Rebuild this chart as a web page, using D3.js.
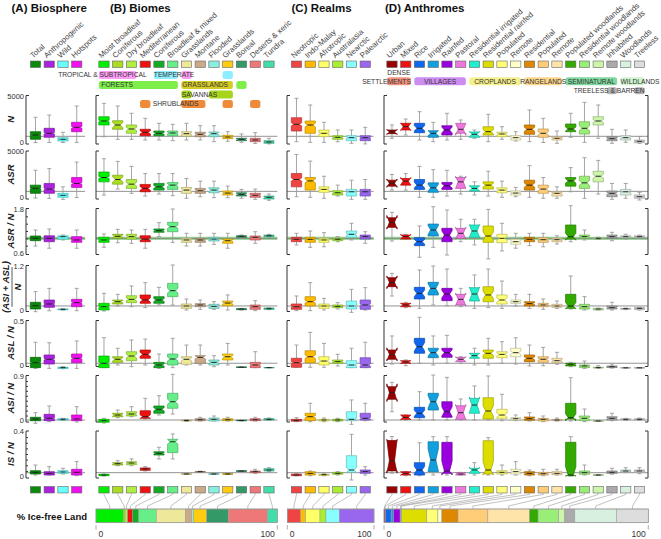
<!DOCTYPE html>
<html><head><meta charset="utf-8">
<script src="https://cdn.jsdelivr.net/npm/d3@7/dist/d3.min.js"></script>
<style>
html,body{margin:0;padding:0;background:#fff;}
svg{display:block;font-family:"Liberation Sans",Arial,Helvetica,sans-serif;}
</style></head><body>
<svg id="chart" width="661" height="539"></svg>
<script>
// ---------- categories ----------
const catA=["Total","Anthropogenic","Wild","Hotspots"];
const catB=["Moist broadleaf","Coniferous","Dry broadleaf","Mediterranean","Coniferous","Broadleaf & mixed","Grasslands","Montane","Flooded","Grasslands","Boreal","Deserts & xeric","Tundra"];
const catC=["Neotropic","Indo-Malay","Afrotropic","Australasia","Nearctic","Palearctic"];
const catD=["Urban","Mixed","Rice","Irrigated","Rainfed","Pastoral","Residential irrigated","Residential rainfed","Populated","Remote","Residential","Populated","Remote","Populated woodlands","Residential woodlands","Remote woodlands","Inhabited","Woodlands","Treeless"];
// ---------- colours ----------
const colA=["#0a8a0a","#aa22dd","#66ffff","#ee11ee"];
const colB=["#00ee00","#aadd22","#b0ee44","#ee1111","#11aa22","#66ee88","#eee899","#ccaa88","#88eedd","#ffcc11","#339966","#ee7777","#44ddaa"];
const colC=["#ee4444","#ffbb00","#ffff66","#aaee33","#88ffff","#9966ee"];
const colD=["#990000","#ee1111","#1166ee","#11a0dd","#9900dd","#ee77dd","#22eecc","#dddd00","#ffff77","#ffffcc","#dd8800","#ffcc77","#ffe4aa","#33aa00","#99ee77","#ccf5aa","#aaaaaa","#d8f0e0","#dddddd"];
// ---------- sample sizes (notches) ----------
const cntA=[760,400,200,300];
const cntB=[230,25,56,39,53,83,50,50,30,45,28,100,36];
const cntC=[179,106,114,96,115,225];
const cntD=[5,8,30,18,25,7,9,40,50,60,50,60,70,40,60,80,60,80,80];
// ---------- box stats: [low whisker, Q1, median, Q3, high whisker] ----------
const A_N=[[0,344,806,1161,2709],[0,559,989,1526,2956],[0,161,344,516,1096],[20,1161,1634,2172,3924]];
const B_N=[[624,1881,2311,2774,4214],[344,1419,1881,2344,3924],[344,989,1451,1881,3139],[269,731,1096,1419,2601],[269,731,989,1236,2064],[194,731,1021,1236,1956],[269,667,946,1161,2064],[269,624,882,1096,1806],[86,624,946,1129,1806],[129,409,591,774,1161],[20,194,344,452,914],[-100,86,269,452,1054],[-150,-80,54,194,452]];
const C_N=[[86,1236,1957,2666,4751],[20,989,1881,2311,4031],[20,624,989,1344,2171],[86,344,559,731,1344],[-86,194,516,731,1344],[-150,194,516,731,1634]];
const D_N=[[452,946,1129,1344,1881],[806,1344,1698,2064,2526],[269,1054,1527,2064,3311],[86,559,989,1269,2171],[269,806,1344,1806,3139],[344,989,1419,2064,2419],[452,559,882,1129,1344],[86,806,1161,1699,3032],[344,624,914,1096,1699],[161,269,516,731,1161],[86,882,1419,1881,3494],[0,559,989,1451,2601],[-86,269,452,624,1236],[559,1161,1451,1989,3139],[20,914,1527,2236,4322],[452,1881,2311,2774,4031],[-86,194,409,624,1419],[20,269,516,731,1344],[-86,-20,129,269,624]];

const A_ASR=[[-50,452,989,1344,2956],[-100,452,914,1527,3139],[-200,20,236,452,1161],[0,1096,1527,2171,3849]];
const B_ASR=[[269,1699,2171,2774,4214],[914,1451,1956,2419,3924],[452,989,1451,1956,3386],[161,624,989,1419,2601],[376,806,1161,1527,2601],[194,882,1344,1634,2601],[-86,452,806,1096,2064],[86,452,731,989,1774],[-20,516,806,1054,1774],[-20,269,484,699,1236],[-86,161,344,516,882],[-200,20,236,452,914],[-300,-161,20,161,376]];
const C_ASR=[[86,1161,1956,2601,4676],[20,806,1806,2171,3956],[-86,559,882,1161,2311],[161,269,516,731,1344],[-200,161,624,882,1881],[-194,161,624,882,1956]];
const D_ASR=[[806,1236,1559,1881,2494],[806,1344,1774,2064,2601],[20,882,1344,1956,3386],[20,559,1054,1591,3032],[161,882,1269,1634,2956],[376,989,1699,2171,2311],[269,699,989,1269,1699],[161,914,1344,1699,2849],[20,516,806,1054,1774],[86,269,484,699,1096],[20,806,1344,1881,3462],[-86,452,914,1344,2171],[-86,161,452,624,1161],[624,1236,1806,2171,3246],[-86,989,1591,2311,4322],[376,1699,2311,2849,4031],[-194,86,452,699,1527],[-86,269,624,882,1527],[-269,-86,86,269,559]];

const A_ASRN=[[0.79,0.936,1.0,1.064,1.227],[0.73,0.908,1.0,1.07,1.255],[0.955,0.98,1.045,1.07,1.09],[0.73,0.89,0.955,1.045,1.227]];
const B_ASRN=[[0.755,0.89,0.955,1.028,1.118],[0.88,1.0,1.055,1.11,1.245],[0.864,0.98,1.045,1.11,1.227],[0.73,0.908,0.98,1.07,1.245],[1.045,1.164,1.209,1.255,1.427],[0.89,1.181,1.317,1.437,1.8],[0.79,0.89,0.955,1.0,1.137],[0.79,0.89,0.955,1.0,1.137],[0.837,0.927,0.98,1.028,1.137],[0.73,0.864,0.935,0.98,1.137],[1.0,1.028,1.055,1.07,1.09],[0.864,0.955,1.028,1.064,1.18],[1.028,1.045,1.07,1.09,1.11]];
const C_ASRN=[[0.82,0.908,0.974,1.028,1.137],[0.755,0.89,0.974,1.028,1.2],[0.77,0.89,0.955,1.0,1.154],[0.908,0.935,0.974,1.0,1.045],[0.955,1.028,1.11,1.2,1.41],[0.864,0.98,1.045,1.09,1.18]];
const D_ASRN=[[0.927,1.3,1.437,1.563,1.71],[0.98,0.98,1.045,1.09,1.11],[0.483,0.8,0.908,1.018,1.336],[0.755,1.064,1.227,1.39,1.863],[0.545,0.908,1.09,1.273,1.773],[0.908,1.0,1.137,1.273,1.519],[0.82,1.028,1.2,1.364,1.519],[0.44,0.89,1.064,1.336,1.79],[0.655,0.88,1.0,1.11,1.41],[0.73,0.837,0.908,0.974,1.137],[0.8,0.908,0.974,1.028,1.137],[0.77,0.89,0.963,1.018,1.137],[0.845,0.908,0.963,1.0,1.07],[0.908,0.98,1.045,1.364,1.89],[0.955,1.0,1.045,1.09,1.227],[0.97,0.98,1.0,1.018,1.03],[0.935,1.0,1.045,1.09,1.164],[0.98,1.018,1.045,1.07,1.11],[1.0,1.018,1.045,1.07,1.09]];

const A_ASIL=[[-0.045,0.027,0.118,0.21,0.5],[-0.02,0.073,0.164,0.273,0.59],[0,0.005,0.018,0.027,0.035],[-0.02,0.09,0.2,0.29,0.59]];
const B_ASIL=[[-0.027,0,0.09,0.182,0.455],[0.109,0.164,0.227,0.273,0.427],[0.09,0.2,0.29,0.39,0.655],[0.064,0.182,0.273,0.409,0.745],[0.136,0.182,0.273,0.364,0.618],[0.136,0.364,0.527,0.727,1.227],[0,0.045,0.109,0.164,0.3],[0.018,0.09,0.136,0.173,0.273],[0.018,0.045,0.1,0.155,0.227],[0,0.118,0.19,0.245,0.41],[0,0.009,0.027,0.036,0.045],[-0.018,0.018,0.09,0.136,0.255],[0.009,0.018,0.036,0.055,0.055]];
const C_ASIL=[[-0.018,0.018,0.09,0.164,0.382],[-0.018,0.109,0.227,0.364,0.745],[0,0.045,0.109,0.164,0.318],[0.027,0.064,0.1,0.136,0.2],[-0.064,0.027,0.109,0.245,0.564],[0,0.018,0.136,0.273,0.609]];
const D_ASIL=[[0.382,0.636,0.755,0.882,1.0],[0.064,0.09,0.136,0.182,0.21],[0.045,0.3,0.455,0.618,1.09],[0.136,0.409,0.59,0.755,1.2],[0.118,0.255,0.436,0.59,1.118],[0.09,0.136,0.29,0.427,0.59],[0.045,0.245,0.436,0.609,0.955],[0.064,0.227,0.41,0.636,1.118],[0.045,0.164,0.273,0.41,0.79],[0.109,0.182,0.227,0.273,0.427],[0.045,0.109,0.173,0.227,0.427],[0.018,0.09,0.136,0.182,0.3],[0.045,0.073,0.109,0.155,0.245],[0.027,0.045,0.109,0.427,0.927],[0,0.027,0.09,0.155,0.364],[0,0,0.027,0.045,0.05],[0,0.027,0.064,0.109,0.21],[0.009,0.018,0.036,0.045,0.05],[0,0.009,0.045,0.064,0.07]];

const A_ASL=[[-0.038,-0.03,0.026,0.087,0.258],[-0.038,0.011,0.065,0.114,0.253],[-0.042,-0.04,-0.03,-0.025,-0.02],[-0.038,0.026,0.076,0.125,0.273]];
const B_ASL=[[-0.03,-0.03,0.019,0.102,0.31],[0,0.03,0.065,0.094,0.19],[-0.019,0.049,0.102,0.151,0.284],[0,0.076,0.121,0.17,0.295],[-0.038,-0.03,0,0.03,0.125],[-0.03,0,0.068,0.125,0.303],[0,0.008,0.065,0.094,0.227],[0,0.019,0.087,0.106,0.227],[-0.019,0,0.03,0.057,0.106],[0,0.057,0.094,0.125,0.246],[-0.028,-0.027,-0.025,-0.023,-0.022],[-0.03,-0.03,0,0.03,0.151],[-0.032,-0.031,-0.03,-0.029,-0.028]];
const C_ASL=[[-0.026,-0.026,0.026,0.076,0.227],[-0.026,0.026,0.094,0.162,0.371],[-0.026,0,0.045,0.094,0.246],[-0.011,0.019,0.038,0.057,0.121],[-0.03,-0.03,0,0.049,0.19],[-0.03,-0.03,0,0.083,0.258]];
const D_ASL=[[0.011,0.065,0.121,0.17,0.33],[-0.008,0.019,0.034,0.049,0.057],[0.019,0.133,0.208,0.303,0.542],[0,0.083,0.14,0.19,0.33],[0.019,0.087,0.14,0.19,0.337],[0.019,0.038,0.065,0.087,0.094],[0,0.076,0.106,0.133,0.19],[0,0.076,0.133,0.17,0.303],[0.019,0.083,0.121,0.151,0.265],[0.011,0.094,0.14,0.19,0.31],[-0.011,0.038,0.076,0.114,0.227],[-0.008,0.03,0.065,0.094,0.2],[0.008,0.026,0.049,0.076,0.144],[-0.019,-0.011,0.008,0.019,0.03],[-0.038,-0.03,-0.011,0,0.045],[-0.038,-0.034,-0.03,-0.025,-0.008],[-0.034,-0.03,-0.019,-0.011,0.011],[-0.034,-0.033,-0.032,-0.031,-0.03],[-0.034,-0.033,-0.032,-0.031,-0.03]];

const A_ASI=[[-0.057,-0.004,0.03,0.065,0.158],[-0.024,-0.004,0.044,0.125,0.293],[0,0.01,0.024,0.036,0.044],[-0.03,-0.004,0.03,0.111,0.279]];
const B_ASI=[[-0.05,-0.036,-0.004,0.024,0.044],[0.057,0.077,0.111,0.146,0.212],[0.077,0.091,0.131,0.178,0.279],[0.03,0.044,0.077,0.198,0.449],[0.111,0.146,0.226,0.293,0.501],[0.131,0.247,0.38,0.55,0.934],[-0.02,-0.01,0,0.01,0.02],[-0.01,-0.004,0.016,0.036,0.065],[-0.01,-0.01,0.024,0.05,0.091],[-0.01,-0.004,0.016,0.036,0.065],[-0.01,-0.005,0,0.005,0.01],[-0.01,-0.004,0.016,0.036,0.065],[0.01,0.01,0.024,0.036,0.05]];
const C_ASI=[[-0.024,-0.016,0.003,0.024,0.057],[-0.024,-0.004,0.077,0.146,0.348],[-0.024,-0.01,0.01,0.024,0.05],[-0.024,-0.01,0.01,0.024,0.044],[-0.077,-0.004,0.024,0.178,0.415],[-0.004,0.01,0.044,0.146,0.348]];
const D_ASI=[[0.178,0.429,0.562,0.683,0.772],[0.01,0.024,0.065,0.111,0.111],[0.01,0.057,0.146,0.267,0.582],[0.01,0.212,0.38,0.55,0.92],[0.01,0.065,0.178,0.38,0.873],[0.01,0.024,0.158,0.299,0.435],[0.01,0.146,0.313,0.449,0.698],[0.01,0.03,0.192,0.461,0.9],[-0.004,0.044,0.111,0.226,0.53],[-0.004,0.01,0.036,0.057,0.111],[-0.01,0.004,0.036,0.071,0.158],[-0.024,-0.01,0.024,0.044,0.091],[-0.01,-0.004,0.01,0.024,0.05],[-0.01,0.03,0.057,0.348,0.866],[-0.024,-0.004,0.044,0.091,0.232],[-0.012,-0.011,-0.01,-0.009,-0.008],[-0.004,0.01,0.044,0.077,0.146],[0,0.01,0.024,0.036,0.044],[0,0.01,0.024,0.036,0.05]];

const A_IS=[[0.013,0.022,0.037,0.052,0.102],[0.013,0.013,0.028,0.043,0.087],[0.022,0.028,0.04,0.052,0.073],[0.007,0.013,0.037,0.064,0.132]];
const B_IS=[[0.005,0.007,0.013,0.02,0.022],[0.096,0.102,0.114,0.123,0.14],[0.096,0.105,0.12,0.132,0.156],[0.049,0.055,0.067,0.076,0.087],[0.156,0.191,0.206,0.22,0.26],[0.156,0.212,0.309,0.331,0.378],[0.02,0.02,0.022,0.025,0.025],[0.038,0.04,0.043,0.045,0.047],[0.02,0.02,0.022,0.025,0.025],[0.02,0.02,0.022,0.025,0.025],[0.044,0.046,0.049,0.05,0.052],[0.028,0.034,0.043,0.049,0.064],[0.043,0.049,0.058,0.069,0.078]];
const C_IS=[[0.007,0.007,0.013,0.022,0.025],[0.007,0.013,0.028,0.043,0.049],[0.007,0.01,0.016,0.02,0.025],[0.013,0.02,0.028,0.037,0.043],[-0.031,0.037,0.058,0.185,0.375],[0.013,0.028,0.043,0.058,0.087]];
const D_IS=[[0.03,0.05,0.14,0.32,0.355],[0.007,0.013,0.028,0.043,0.043],[0.007,0.013,0.058,0.123,0.3],[0.013,0.043,0.147,0.309,0.354],[0.013,0.028,0.049,0.304,0.354],[0.013,0.013,0.022,0.034,0.037],[0.013,0.028,0.058,0.073,0.123],[0.013,0.022,0.058,0.318,0.345],[0.013,0.022,0.037,0.052,0.102],[0.013,0.022,0.043,0.064,0.132],[0.007,0.013,0.028,0.043,0.058],[0.007,0.013,0.025,0.037,0.064],[0.013,0.016,0.028,0.043,0.064],[0.004,0.007,0.013,0.304,0.354],[0.013,0.02,0.034,0.049,0.102],[0.012,0.012,0.013,0.014,0.015],[0.02,0.028,0.037,0.049,0.073],[0.034,0.04,0.049,0.058,0.078],[0.025,0.037,0.049,0.058,0.078]];

// ---------- % ice-free land ----------
const iceB=[15.1,0.9,1.5,2.8,3.3,9.7,16.0,3.5,0.9,7.4,11.9,21.5,5.5];
const iceC=[15.4,5.8,16.5,6.9,15.4,40.0];
const iceD=[0.4,0.2,2.1,0.9,2.5,0.3,0.3,9.5,4.2,1.5,6.1,11.3,15.8,3.2,7.8,2.3,3.8,15.8,12.0];

// ---------- row labels / tick labels ----------
const rowLabels=["N","ASR","ASR / N","(ASI + ASL)","ASL / N","ASI / N","IS / N"];
const rowTicks=[[0,5000],[0,5000],[0.6,1.8],[0,1.2],[0,0.5],[0,0.9],[0,0.4]];
const rowMinor=[[],[],[0.8,1.0,1.2,1.4,1.6],[],[],[0.1,0.2,0.3,0.4,0.5,0.6,0.7,0.8],[0.05,0.1,0.15,0.2,0.25,0.3,0.35]];
const rowRef=[667,667,1.0,0.11,0.02,0.01,0.034];
const titles=["(A) Biosphere","(B) Biomes","(C) Realms","(D) Anthromes"];

// ---------- layout ----------
const svg=d3.select("#chart");
const step=13.75;
const rowRange=[[142.5,96],[197.5,151.5],[253,209],[310,266],[365,321],[420.5,376],[476.5,431.5]];
const panels=[
 {cats:catA,col:colA,n:cntA,left:26,x0:28.6,rows:[A_N,A_ASR,A_ASRN,A_ASIL,A_ASL,A_ASI,A_IS],ice:null,tx:11.5},
 {cats:catB,col:colB,n:cntB,left:96,x0:97.1,rows:[B_N,B_ASR,B_ASRN,B_ASIL,B_ASL,B_ASI,B_IS],ice:iceB,bar:[96,277.3],tx:110},
 {cats:catC,col:colC,n:cntC,left:287,x0:289.6,rows:[C_N,C_ASR,C_ASRN,C_ASIL,C_ASL,C_ASI,C_IS],ice:iceC,bar:[287.3,374],tx:291.5},
 {cats:catD,col:colD,n:cntD,left:384,x0:385.1,right:648,rows:[D_N,D_ASR,D_ASRN,D_ASIL,D_ASL,D_ASI,D_IS],ice:iceD,bar:[384,648.3],tx:385}
];
panels.forEach(p=>{
  p.x=d3.scaleBand().domain(d3.range(p.cats.length)).range([p.x0,p.x0+step*p.cats.length]).paddingInner(0.25).paddingOuter(0.125);
  p.xEnd=p.x0+step*p.cats.length+1.5;
});

// titles
panels.forEach((p,i)=>{
  svg.append("text").attr("x",p.tx).attr("y",11.5).attr("font-size",11.5).attr("font-weight","bold").attr("fill","#111").text(titles[i]);
});

// category labels + swatches (top and bottom)
panels.forEach(p=>{
  const bw=p.x.bandwidth();
  p.cats.forEach((c,i)=>{
    const cx=p.x(i)+bw/2;
    svg.append("text").attr("transform",`translate(${cx-2.5},58.5) rotate(-42)`).attr("font-size",7.8).attr("fill","#444").text(c);
    [61,486.5].forEach(yy=>{
      svg.append("rect").attr("x",p.x(i)).attr("y",yy).attr("width",bw).attr("height",6.5).attr("fill",p.col[i]).attr("stroke","#666").attr("stroke-width",0.6);
    });
  });
});

// group labels
function groupRow(p,spans,color,y,h){
  spans.forEach(([a,b])=>{
    svg.append("rect").attr("x",p.x(a)).attr("y",y).attr("width",p.x(b)+p.x.bandwidth()-p.x(a)).attr("height",h).attr("rx",2.5).attr("fill",color);
  });
}
function groupText(txt,x,y,anchor){
  svg.append("text").attr("x",x).attr("y",y).attr("font-size",6.7).attr("fill","#333").attr("text-anchor",anchor).text(txt);
}
{
  const p=panels[1], bw=p.x.bandwidth();
  groupRow(p,[[0,2],[6,6]],"#ff9cf5",71,8);
  groupRow(p,[[4,5],[9,9]],"#8eeeff",71,8);
  groupText("TROPICAL & SUBTROPICAL",p.x(3)+bw/2+1.5,77.3,"end");
  groupText("TEMPERATE",p.x(4),77.3,"start");
  groupRow(p,[[0,5],[10,10]],"#7dee4a",81,8);
  groupRow(p,[[6,9]],"#d6cc26",81,8);
  groupText("FORESTS",p.x(0)+2.5,87.3,"start");
  groupText("GRASSLANDS",p.x(6)+1,87.3,"start");
  groupRow(p,[[6,6],[8,9]],"#a9d41e",90.5,8);
  groupText("SAVANNAS",p.x(6)+0.5,96.8,"start");
  groupRow(p,[[3,3],[6,7],[9,9],[11,11]],"#ee8a38",100,8);
  groupText("SHRUBLANDS",p.x(4)-1,106.3,"start");
}
{
  const p=panels[3], bw=p.x.bandwidth();
  groupText("DENSE",p.x(0)+bw+1.7,75,"middle");
  groupRow(p,[[0,1]],"#f3937f",77.3,8);
  groupRow(p,[[2,5]],"#cd8cf0",77.3,8);
  groupRow(p,[[6,9]],"#f5f08c",77.3,8);
  groupRow(p,[[10,12]],"#fcd68c",77.3,8);
  groupRow(p,[[13,16]],"#80d89e",77.3,8);
  groupRow(p,[[17,18]],"#cdf4cd",77.3,8);
  groupText("SETTLEMENTS",p.x(1)+bw,83.5,"end");
  groupText("VILLAGES",(p.x(2)+p.x(5)+bw)/2,83.5,"middle");
  groupText("CROPLANDS",(p.x(6)+p.x(9)+bw)/2,83.5,"middle");
  groupText("RANGELANDS",(p.x(10)+p.x(12)+bw)/2,83.5,"middle");
  groupText("SEMINATURAL",(p.x(13)+p.x(16)+bw)/2,83.5,"middle");
  groupText("WILDLANDS",p.x(17),83.5,"start");
  groupRow(p,[[16,16],[18,18]],"#b4b4b4",87.3,7);
  groupText("TREELESS & BARREN",p.x(18)+bw,92.8,"end");
}

// box plot rows
function drawBox(g,x,bw,y,d,color,n){
  const [lo,q1,med,q3,hi]=d;
  const x0=x,x1=x+bw,xc=x+bw/2;
  const wc="#9a9a9a";
  g.append("line").attr("x1",xc).attr("x2",xc).attr("y1",y(q3)).attr("y2",y(hi)).attr("stroke",wc).attr("stroke-width",0.9);
  g.append("line").attr("x1",xc).attr("x2",xc).attr("y1",y(q1)).attr("y2",y(lo)).attr("stroke",wc).attr("stroke-width",0.9);
  [hi,lo].forEach(v=>g.append("line").attr("x1",xc-2).attr("x2",xc+2).attr("y1",y(v)).attr("y2",y(v)).attr("stroke",wc).attr("stroke-width",0.9));
  const nd=1.58*(q3-q1)/Math.sqrt(n);
  const nlo=Math.max(med-nd,lo), nhi=Math.min(med+nd,hi);
  const xi=bw/4;
  const pts=[[x0,q1],[x0,nlo],[x0+xi,med],[x0,nhi],[x0,q3],[x1,q3],[x1,nhi],[x1-xi,med],[x1,nlo],[x1,q1]].map(([a,b])=>[a,y(b)]);
  g.append("path").attr("d",d3.line()(pts)+"Z").attr("fill",color).attr("stroke",d3.color(color).darker(0.9)).attr("stroke-width",0.7).attr("stroke-linejoin","round");
  g.append("line").attr("x1",x0+xi).attr("x2",x1-xi).attr("y1",y(med)).attr("y2",y(med)).attr("stroke","#222").attr("stroke-width",1);
}

rowRange.forEach((rng,ri)=>{
  const y=d3.scaleLinear().domain(rowTicks[ri]).range(rng);
  const g=svg.append("g");
  const top=y(rowTicks[ri][1])-0.5, bot=y(rowTicks[ri][0])+1.5;
  panels.forEach((p,pi)=>{
    if(ri===2){
      g.append("line").attr("x1",p.left+0.5).attr("x2",p.xEnd).attr("y1",y(rowRef[ri])).attr("y2",y(rowRef[ri])).attr("stroke","#88cc88").attr("stroke-width",3.4).attr("opacity",0.8);
    }
    g.append("line").attr("x1",p.left).attr("x2",p.xEnd).attr("y1",y(rowRef[ri])).attr("y2",y(rowRef[ri])).attr("stroke","#777").attr("stroke-width",0.8);
    g.append("path").attr("d",`M${p.left+3},${top}H${p.left}V${bot}H${p.left+3}`).attr("fill","none").attr("stroke","#333").attr("stroke-width",1);
    if(p.right){
      g.append("path").attr("d",`M${p.right-3},${top}H${p.right}V${bot}H${p.right-3}`).attr("fill","none").attr("stroke","#333").attr("stroke-width",1);
    }
    const bw=p.x.bandwidth();
    p.rows[ri].forEach((d,i)=>drawBox(g,p.x(i),bw,y,d,p.col[i],p.n[i]));
  });
  // axis labels (panel A)
  const ax=svg.append("g").attr("transform","translate(26,0)")
    .call(d3.axisLeft(y).tickValues(rowTicks[ri]).tickSize(0).tickPadding(2).tickFormat(d3.format("~g")));
  ax.select(".domain").remove();
  ax.selectAll("text").attr("font-size",7.5).attr("fill","#333").attr("font-family","Liberation Sans, Arial, sans-serif");
  if(rowMinor[ri].length){
    const mx=svg.append("g").attr("transform","translate(26,0)")
      .call(d3.axisLeft(y).tickValues(rowMinor[ri]).tickSize(-2).tickFormat(""));
    mx.select(".domain").remove();
    mx.selectAll("line").attr("stroke","#333");
  }
  // row title
  const cy=(rng[0]+rng[1])/2;
  if(ri===3){
    svg.append("text").attr("transform",`translate(9.3,${cy-1}) rotate(-90)`).attr("text-anchor","middle").attr("font-size",9.5).attr("font-weight","bold").attr("font-style","italic").attr("fill","#222").text(rowLabels[ri]);
    svg.append("line").attr("x1",12).attr("x2",12).attr("y1",cy-21).attr("y2",cy+19).attr("stroke","#333").attr("stroke-width",0.8);
    svg.append("text").attr("transform",`translate(20.5,${cy-1}) rotate(-90)`).attr("text-anchor","middle").attr("font-size",9.5).attr("font-weight","bold").attr("font-style","italic").attr("fill","#222").text("N");
  } else {
    svg.append("text").attr("transform",`translate(13.5,${cy}) rotate(-90)`).attr("text-anchor","middle").attr("font-size",9.5).attr("font-weight","bold").attr("font-style","italic").attr("fill","#222").text(rowLabels[ri]);
  }
});

// ice-free land bars
svg.append("text").attr("x",87).attr("y",520).attr("text-anchor","end").attr("font-size",9.5).attr("font-weight","bold").attr("fill","#111").text("% Ice-free Land");
panels.forEach(p=>{
  if(!p.ice) return;
  const s=d3.scaleLinear().domain([0,100]).range(p.bar);
  const cum=d3.cumsum(p.ice);
  const bw=p.x.bandwidth();
  const lg=svg.append("g"), bg=svg.append("g");
  p.ice.forEach((v,i)=>{
    const a=cum[i]-v, b=cum[i];
    bg.append("rect").attr("x",s(a)).attr("y",509).attr("width",s(b)-s(a)).attr("height",13.7).attr("fill",p.col[i]).attr("stroke","#999").attr("stroke-width",0.5);
    const mc=s((a+b)/2), cx=p.x(i)+bw/2;
    lg.append("path").attr("d",`M${cx},493V494.5L${mc},506V509`).attr("fill","none").attr("stroke","#999").attr("stroke-width",0.6);
  });
  bg.append("rect").attr("x",p.bar[0]).attr("y",509).attr("width",p.bar[1]-p.bar[0]).attr("height",13.7).attr("fill","none").attr("stroke","#999").attr("stroke-width",0.7);
  [0,100].forEach(t=>{
    svg.append("line").attr("x1",s(t)).attr("x2",s(t)).attr("y1",525).attr("y2",529.5).attr("stroke","#999").attr("stroke-width",0.8);
  });
  svg.append("text").attr("x",s(0)+2.5).attr("y",537).attr("font-size",8.5).attr("fill","#333").text("0");
  svg.append("text").attr("x",s(100)-2.5).attr("y",537).attr("text-anchor","end").attr("font-size",8.5).attr("fill","#333").text("100");
});
</script>
</body></html>
